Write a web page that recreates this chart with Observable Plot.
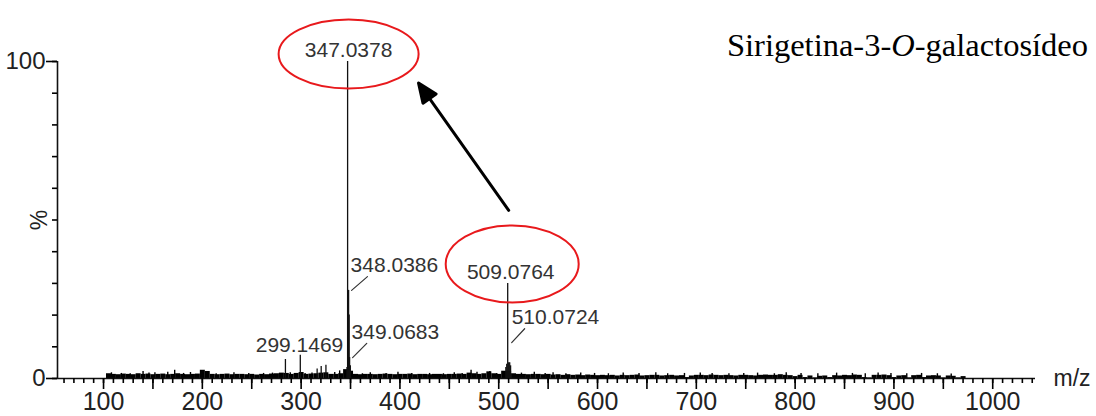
<!DOCTYPE html>
<html><head><meta charset="utf-8">
<script src="https://cdn.jsdelivr.net/npm/d3@7"></script>
<script src="https://cdn.jsdelivr.net/npm/@observablehq/plot@0.6"></script>
<style>
html,body{margin:0;padding:0;background:#fff;}
#wrap{position:relative;width:1096px;height:416px;overflow:hidden;}
#title{position:absolute;right:8px;top:29px;font-family:"Liberation Serif","Times New Roman",serif;font-size:32.5px;line-height:32px;color:#000;white-space:nowrap;}
</style></head><body>
<div id="wrap"><div id="chart"></div><div id="title"></div></div>
<script>
// ---------------- data ----------------
const titleParts = [["Sirigetina-3-", false], ["O", true], ["-galactosídeo", false]];
const xTickLabels = [100, 200, 300, 400, 500, 600, 700, 800, 900, 1000];
const yTickLabels = [0, 100];
const yAxisLabel = "%";
const xAxisLabel = "m/z";

// labelled / prominent peaks (m/z, relative intensity %)
const peakMz  = [284.1, 299.1469, 316.2, 320.3, 325.1, 346.4, 347.0378, 347.6, 348.0386, 348.6, 349.0683, 349.8, 507.2, 508.1, 509.0764, 510.0724, 511.1, 512.0];
const peakPct = [6.0,   7.3,      3.0,   3.8,   4.2,   3.5,   100,      27.5,  27.8,     20,    6.6,      4.0,   3.5,   4.5,   30,       5.0,      5.0,   4.0];

// annotated peaks
const labelText = ["347.0378", "348.0386", "349.0683", "299.1469", "509.0764", "510.0724"];

// baseline noise band, every 5 m/z from 105 to 975 (% intensity)
const noiseStart = 105, noiseStep = 5;
const noisePct = [
 1.5,1.3,1.2,1.4,1.3,1.2,1.5,1.3,1.4,1.2,1.3,1.4,1.2,1.3,1.5,1.3,1.2,1.3,1.4,2.6,
 2.2,1.3,1.2,1.3,1.4,1.2,1.3,1.3,1.2,1.3,1.1,1.3,1.2,1.4,1.5,1.7,1.6,1.3,1.6,1.9,
 1.3,1.4,1.5,1.7,1.8,1.3,1.3,1.5,2.8,2.3,1.3,1.2,1.3,1.3,1.2,1.3,1.4,1.3,1.2,1.3,
 1.3,1.4,1.2,1.3,1.3,1.2,1.3,1.3,1.2,1.3,1.3,1.4,1.3,1.7,1.5,1.3,1.5,2.1,1.5,1.3,
 2.3,2.3,1.5,1.3,1.3,1.2,1.3,1.3,1.2,1.3,1.1,1.2,1.0,1.2,1.0,1.1,0.9,1.1,1.0,0.9,
 1.0,0.9,1.0,0.8,1.0,0.9,1.0,1.1,0.8,0.9,1.0,1.0,0.8,0.9,1.0,0.8,0.9,0.3,0.8,1.0,
 1.0,0.9,1.1,1.0,0.9,1.0,0.9,0.8,1.0,1.0,0.9,0.8,1.0,1.1,1.0,1.0,1.2,1.0,0.9,0.6,
 1.0,0.3,0.8,0.2,0.7,0.8,0.3,0.9,0.8,1.0,0.9,1.1,1.0,0.3,0.2,1.0,1.0,1.1,0.9,0.3,
 0.8,0.9,0.2,0.9,1.0,0.3,0.8,0.9,0.8,0.2,0.8,0.7,0.2,0.6,0.0
];

// thin noise spikes
const spikeMz  = [108,118,127,140,146,152,165,172,181,188,214,232,247,262,271,289,304,311,334,339,362,370,386,398,412,430,444,455,463,472,478,491,498,523,536,547,555,568,583,597,611,626,642,659,671,688,704,716,733,748,762,779,791,806,823,842,858,871,884,897,913,928,944,958];
const spikePct = [1.8,1.6,1.5,2.2,1.7,1.8,2.0,2.6,1.6,1.9,1.5,1.8,1.6,1.6,1.7,1.8,1.6,1.7,1.9,2.4,1.5,1.8,1.6,2.0,1.6,1.6,1.5,1.8,1.6,2.6,2.0,2.2,1.6,1.7,2.0,1.6,1.8,1.5,1.7,1.6,1.5,1.7,1.6,1.8,1.5,1.6,1.7,1.6,1.5,1.6,1.7,1.5,1.8,1.6,1.5,1.7,1.6,1.5,1.7,1.6,1.5,1.6,1.5,1.4];

// ---------------- tables ----------------
const peaks = peakMz.map((mz, i) => ({mz, pct: peakPct[i]}));
const noise = noisePct.map((pct, i) => ({mz: noiseStart + i * noiseStep, pct}));
const spikes = spikeMz.map((mz, i) => ({mz, pct: spikePct[i]}));
const labels = labelText.map(t => peaks.find(p => p.mz === +t)).map((p, i) => ({...p, text: labelText[i]}));
const L = Object.fromEntries(labels.map(d => [d.text, d]));

// ---------------- layout ----------------
const xDomain = [53.4, 1043.3];
const minorX = d3.range(60, 1041, 10);
const majorX = d3.range(100, 1041, 50);
const minorY = d3.range(0, 101, 10);

const labelFont = {fontSize: 21, fill: "#333", fontFamily: "Liberation Sans, Arial, sans-serif"};
const lineShape = {draw(ctx, l) { ctx.moveTo(0, 0); ctx.lineTo(0, -l); }};
const ellipseShape = (rx, ry) => ({draw(ctx) {
  const k = 0.5523;
  ctx.moveTo(rx, 0);
  ctx.bezierCurveTo(rx, ry * k, rx * k, ry, 0, ry);
  ctx.bezierCurveTo(-rx * k, ry, -rx, ry * k, -rx, 0);
  ctx.bezierCurveTo(-rx, -ry * k, -rx * k, -ry, 0, -ry);
  ctx.bezierCurveTo(rx * k, -ry, rx, -ry * k, rx, 0);
  ctx.closePath();
}});
const arrowShape = {draw(ctx, l) {
  const h = 19, w = 8;
  ctx.moveTo(0, 0); ctx.lineTo(0, -l + h - 2);
  ctx.moveTo(0, -l); ctx.lineTo(w, -l + h); ctx.lineTo(-w, -l + h); ctx.closePath();
}};

const chart = Plot.plot({
  width: 1096, height: 416,
  marginLeft: 57, marginRight: 61, marginTop: 61, marginBottom: 38,
  x: {domain: xDomain},
  y: {domain: [0, 100]},
  style: {fontFamily: "Liberation Sans, Arial, sans-serif", fontSize: "25px", background: "white", color: "#000", overflow: "visible"},
  marks: [
    // noise
    Plot.ruleX(noise, {x: "mz", y1: 0, y2: "pct", strokeWidth: 5, stroke: "#000"}),
    Plot.ruleX(spikes, {x: "mz", y1: 0, y2: "pct", strokeWidth: 1.4, stroke: "#000"}),
    Plot.ruleX(peaks, {x: "mz", y1: 0, y2: "pct", strokeWidth: 1.3, stroke: "#111"}),
    // axes
    Plot.ruleY([0], {x1: xDomain[0], x2: xDomain[1], stroke: "#111", strokeWidth: 1.6}),
    Plot.ruleX([xDomain[0]], {y1: 0, y2: 100, stroke: "#111", strokeWidth: 1.6}),
    Plot.axisX(minorX, {tickSize: 5, tickFormat: () => "", strokeWidth: 1.6, label: null}),
    Plot.axisX(majorX, {tickSize: 11, strokeWidth: 1.6, tickPadding: 3, fill: "#222", fontSize: 25,
      tickFormat: d => xTickLabels.includes(d) ? String(d) : "", label: null}),
    Plot.axisY(minorY, {tickSize: 5, tickFormat: () => "", strokeWidth: 1.6, label: null}),
    Plot.axisY(yTickLabels, {tickSize: 11, strokeWidth: 1.6, tickPadding: 1, fill: "#222", fontSize: 24, label: null}),
    Plot.text([yAxisLabel], {x: xDomain[0], y: 50, dx: -18, rotate: -90, fill: "#222", fontSize: 23}),
    Plot.text([xAxisLabel], {x: xDomain[1], y: 0, dx: 18, textAnchor: "start", fill: "#222", fontSize: 23}),
    // peak labels
    Plot.text([L["347.0378"]], {x: "mz", y: "pct", text: "text", dx: 1, dy: -11, ...labelFont}),
    Plot.text([L["348.0386"], L["349.0683"]], {x: "mz", y: "pct", text: "text", dx: 2, dy: -25, textAnchor: "start", ...labelFont}),
    Plot.text([L["299.1469"]], {x: "mz", y: "pct", text: "text", dx: 43, dy: -10, textAnchor: "end", ...labelFont}),
    Plot.text([L["509.0764"]], {x: "mz", y: "pct", text: "text", dx: 3, dy: -11, ...labelFont}),
    Plot.text([L["510.0724"]], {x: "mz", y: "pct", text: "text", dx: 3, dy: -45, textAnchor: "start", ...labelFont}),
    // leader lines
    Plot.vector([L["348.0386"]], {x: "mz", y: "pct", dx: 3, length: 21, rotate: 49, anchor: "start", shape: lineShape, stroke: "#333", strokeWidth: 1.2}),
    Plot.vector([L["349.0683"]], {x: "mz", y: "pct", dx: 3, length: 20, rotate: 45, anchor: "start", shape: lineShape, stroke: "#333", strokeWidth: 1.2}),
    Plot.vector([L["510.0724"]], {x: "mz", y: "pct", dx: 3, dy: -20, length: 19, rotate: 43, anchor: "start", shape: lineShape, stroke: "#333", strokeWidth: 1.2}),
    // highlight ellipses
    Plot.vector([L["347.0378"]], {x: "mz", y: "pct", dx: 1, dy: -7.5, length: 1, anchor: "start", shape: ellipseShape(70, 34.5), stroke: "#e8191c", strokeWidth: 2, fill: "none"}),
    Plot.vector([L["509.0764"]], {x: "mz", y: "pct", dx: 4.5, dy: -19.5, length: 1, anchor: "start", shape: ellipseShape(66.5, 38.5), stroke: "#e8191c", strokeWidth: 2, fill: "none"}),
    // arrow from 509 to 347
    Plot.vector([L["509.0764"]], {x: "mz", y: "pct", dx: 1, dy: -73, length: 156, rotate: -35.3, anchor: "start", shape: arrowShape, stroke: "#000", fill: "#000", strokeWidth: 3})
  ]
});
document.getElementById("chart").append(chart);

const t = document.getElementById("title");
for (const [s, it] of titleParts) {
  const el = document.createElement(it ? "i" : "span");
  el.textContent = s;
  t.append(el);
}
</script>
</body></html>
